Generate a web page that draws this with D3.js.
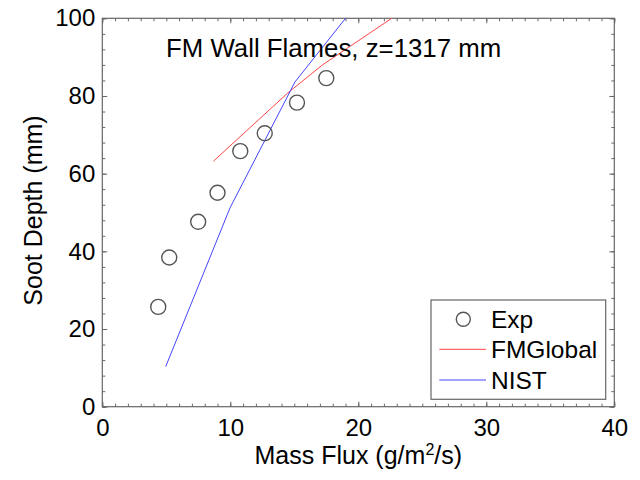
<!DOCTYPE html>
<html>
<head>
<meta charset="utf-8">
<script src="https://cdn.jsdelivr.net/npm/d3@7"></script>
<style>
  body { margin: 0; background: #fff; }
  svg { display: block; font-family: "Liberation Sans", Arial, sans-serif; }
</style>
</head>
<body>
<svg id="chart" width="640" height="480"></svg>
<script>
// ---- data ----
const expX = [4.37, 5.23, 7.49, 9.00, 10.78, 12.69, 15.21, 17.50];
const expY = [25.7, 38.4, 47.6, 55.1, 65.8, 70.4, 78.3, 84.6];
const fmX = [8.68, 14.5, 17.2, 22.7];
const fmY = [63.2, 80.8, 88.0, 100.2];
const nistX = [4.95, 9.98, 15.05, 19.05];
const nistY = [10.3, 51.2, 83.6, 100.2];
const xTicks = [0, 10, 20, 30, 40];
const yTicks = [0, 20, 40, 60, 80, 100];
const seriesNames = ["Exp", "FMGlobal", "NIST"];
const titleText = "FM Wall Flames, z=1317 mm";

// ---- layout ----
const L = 102.3, R = 614.3, T = 18.3, B = 406.7;
const svg = d3.select("#chart");
const x = d3.scaleLinear().domain([0, 40]).range([L, R]);
const y = d3.scaleLinear().domain([0, 100]).range([B, T]);
const axisColor = "#666";
const redC = "#ff4545", blueC = "#4545ff";

svg.append("defs").append("clipPath").attr("id", "clip")
  .append("rect").attr("x", L).attr("y", T).attr("width", R - L).attr("height", B - T);

// minor ticks
const xMinor = d3.range(0, 41, 1);
const yMinor = d3.range(0, 101, 4);
function styleAxis(g) {
  g.select(".domain").remove();
  g.selectAll(".tick line").attr("stroke", axisColor);
  g.selectAll(".tick text").attr("fill", "#000").attr("font-size", 24);
}
svg.append("g").attr("transform", `translate(0,${B})`)
  .call(d3.axisBottom(x).tickValues(xMinor).tickSize(-3).tickFormat("")).call(styleAxis);
svg.append("g").attr("transform", `translate(0,${T})`)
  .call(d3.axisTop(x).tickValues(xMinor).tickSize(-3).tickFormat("")).call(styleAxis);
svg.append("g").attr("transform", `translate(${L},0)`)
  .call(d3.axisLeft(y).tickValues(yMinor).tickSize(-3).tickFormat("")).call(styleAxis);
svg.append("g").attr("transform", `translate(${R},0)`)
  .call(d3.axisRight(y).tickValues(yMinor).tickSize(-3).tickFormat("")).call(styleAxis);

// major ticks with labels
svg.append("g").attr("transform", `translate(0,${B})`)
  .call(d3.axisBottom(x).tickValues(xTicks).tickSize(-5).tickPadding(12).tickFormat(d3.format("d"))).call(styleAxis);
svg.append("g").attr("transform", `translate(0,${T})`)
  .call(d3.axisTop(x).tickValues(xTicks).tickSize(-5).tickFormat("")).call(styleAxis);
svg.append("g").attr("transform", `translate(${L},0)`)
  .call(d3.axisLeft(y).tickValues(yTicks).tickSize(-5).tickPadding(7).tickFormat(d3.format("d"))).call(styleAxis);
svg.append("g").attr("transform", `translate(${R},0)`)
  .call(d3.axisRight(y).tickValues(yTicks).tickSize(-5).tickFormat("")).call(styleAxis);

// frame
svg.append("rect").attr("x", L).attr("y", T).attr("width", R - L).attr("height", B - T)
  .attr("fill", "none").attr("stroke", axisColor).attr("stroke-width", 1.2);

// lines
const line = d3.line().x(d => x(d[0])).y(d => y(d[1]));
const plot = svg.append("g").attr("clip-path", "url(#clip)");
plot.append("path").datum(d3.zip(fmX, fmY)).attr("d", line)
  .attr("fill", "none").attr("stroke", redC).attr("stroke-width", 1);
plot.append("path").datum(d3.zip(nistX, nistY)).attr("d", line)
  .attr("fill", "none").attr("stroke", blueC).attr("stroke-width", 1);

// circles
plot.selectAll("circle.exp").data(d3.zip(expX, expY)).join("circle")
  .attr("class", "exp")
  .attr("cx", d => x(d[0])).attr("cy", d => y(d[1])).attr("r", 7.5)
  .attr("fill", "none").attr("stroke", "#555").attr("stroke-width", 1.4);

// title
svg.append("text").attr("x", 166).attr("y", 56.5).attr("font-size", 25.8)
  .attr("fill", "#000").text(titleText);

// axis labels
const xl = svg.append("text").attr("x", (L + R) / 2).attr("y", 464)
  .attr("text-anchor", "middle").attr("font-size", 25).attr("fill", "#000");
xl.append("tspan").text("Mass Flux (g/m");
xl.append("tspan").attr("font-size", 16).attr("dy", -9).text("2");
xl.append("tspan").attr("dy", 9).text("/s)");

svg.append("text")
  .attr("transform", `translate(42,${(T + B) / 2 - 2}) rotate(-90)`)
  .attr("text-anchor", "middle").attr("font-size", 25).attr("fill", "#000")
  .text("Soot Depth (mm)");

// legend
const lg = svg.append("g");
lg.append("rect").attr("x", 431).attr("y", 300).attr("width", 605.7 - 431).attr("height", 399.3 - 300)
  .attr("fill", "#fff").attr("stroke", axisColor).attr("stroke-width", 1.2);
const rows = [319.3, 349.3, 380];
lg.append("circle").attr("cx", 463.3).attr("cy", rows[0]).attr("r", 7)
  .attr("fill", "none").attr("stroke", "#555").attr("stroke-width", 1.4);
lg.append("line").attr("x1", 439.3).attr("x2", 486).attr("y1", rows[1]).attr("y2", rows[1])
  .attr("stroke", redC).attr("stroke-width", 1);
lg.append("line").attr("x1", 439.3).attr("x2", 486).attr("y1", rows[2]).attr("y2", rows[2])
  .attr("stroke", blueC).attr("stroke-width", 1);
seriesNames.forEach((n, i) => {
  lg.append("text").attr("x", 491).attr("y", rows[i]).attr("dy", "0.36em")
    .attr("font-size", 24.5).attr("fill", "#000").text(n);
});
</script>
</body>
</html>
